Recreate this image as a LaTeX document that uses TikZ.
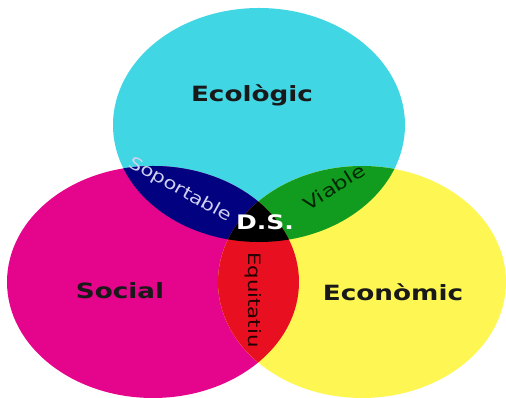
\documentclass[tikz,border=0pt]{standalone}
\usepackage{fontspec}
\setmainfont{DejaVu Sans}
\usepackage{tikz}
\definecolor{ecoCyan}{RGB}{65,214,228}
\definecolor{socMagenta}{RGB}{229,5,140}
\definecolor{ecnYellow}{RGB}{253,246,83}
\definecolor{midBlue}{RGB}{2,2,129}
\definecolor{midGreen}{RGB}{18,156,31}
\definecolor{midRed}{RGB}{232,16,32}
\definecolor{softLilac}{RGB}{208,208,240}
\newcommand{\widetext}[1]{\scalebox{1.25}[1]{#1}}
\tikzset{
  mainLabel/.style={%
    font=\fontsize{21}{21}\selectfont\bfseries, text=black!90, inner sep=0pt,
  },
  smallLabel/.style={%
    font=\fontsize{17}{17}\selectfont, inner sep=0pt,
  }
}

\begin{document}
\begin{tikzpicture}[x=1pt,y=1pt]
        \useasboundingbox (0,0) rectangle (506,398);
        \def\cyanPath{(259,273) ellipse [x radius=146, y radius=117]}
        \def\magentaPath{(153,116) ellipse [x radius=146, y radius=116]}
        \def\yellowPath{(362,116) ellipse [x radius=144, y radius=116]}
        \fill[ecoCyan] \cyanPath;
        \fill[socMagenta] \magentaPath;
        \fill[ecnYellow] \yellowPath;
        % overlaps
        \begin{scope}
          \clip \cyanPath;
          \fill[midBlue] \magentaPath;
          \fill[midGreen] \yellowPath;
        \end{scope}
        \begin{scope}
          \clip \magentaPath;
          \fill[midRed] \yellowPath;
          \clip \yellowPath;
          \fill[black] \cyanPath;
        \end{scope}
        % labels
        \node[mainLabel] (ecologic) at (252,303) {\widetext{Ecològic}};
        \node[mainLabel] (social) at (120,107) {\widetext{Social}};
        \node[mainLabel] (economic) at (393,106) {\widetext{Econòmic}};
        \node[mainLabel,text=white,font=\fontsize{20}{20}\selectfont\bfseries] (ds) at (265,176) {\widetext{D.S.}};
        \node[smallLabel,text=softLilac,rotate=-29] (soportable) at (180,208) {\widetext{Soportable}};
        \node[smallLabel,text=black!85!green,rotate=32,font=\fontsize{18}{18}\selectfont] (viable) at (334,211) {\widetext{Viable}};
        \node[smallLabel,text=black!85!red,rotate=-90] (equitatiu) at (253,98) {\widetext{Equitatiu}};
      \end{tikzpicture}
\end{document}
